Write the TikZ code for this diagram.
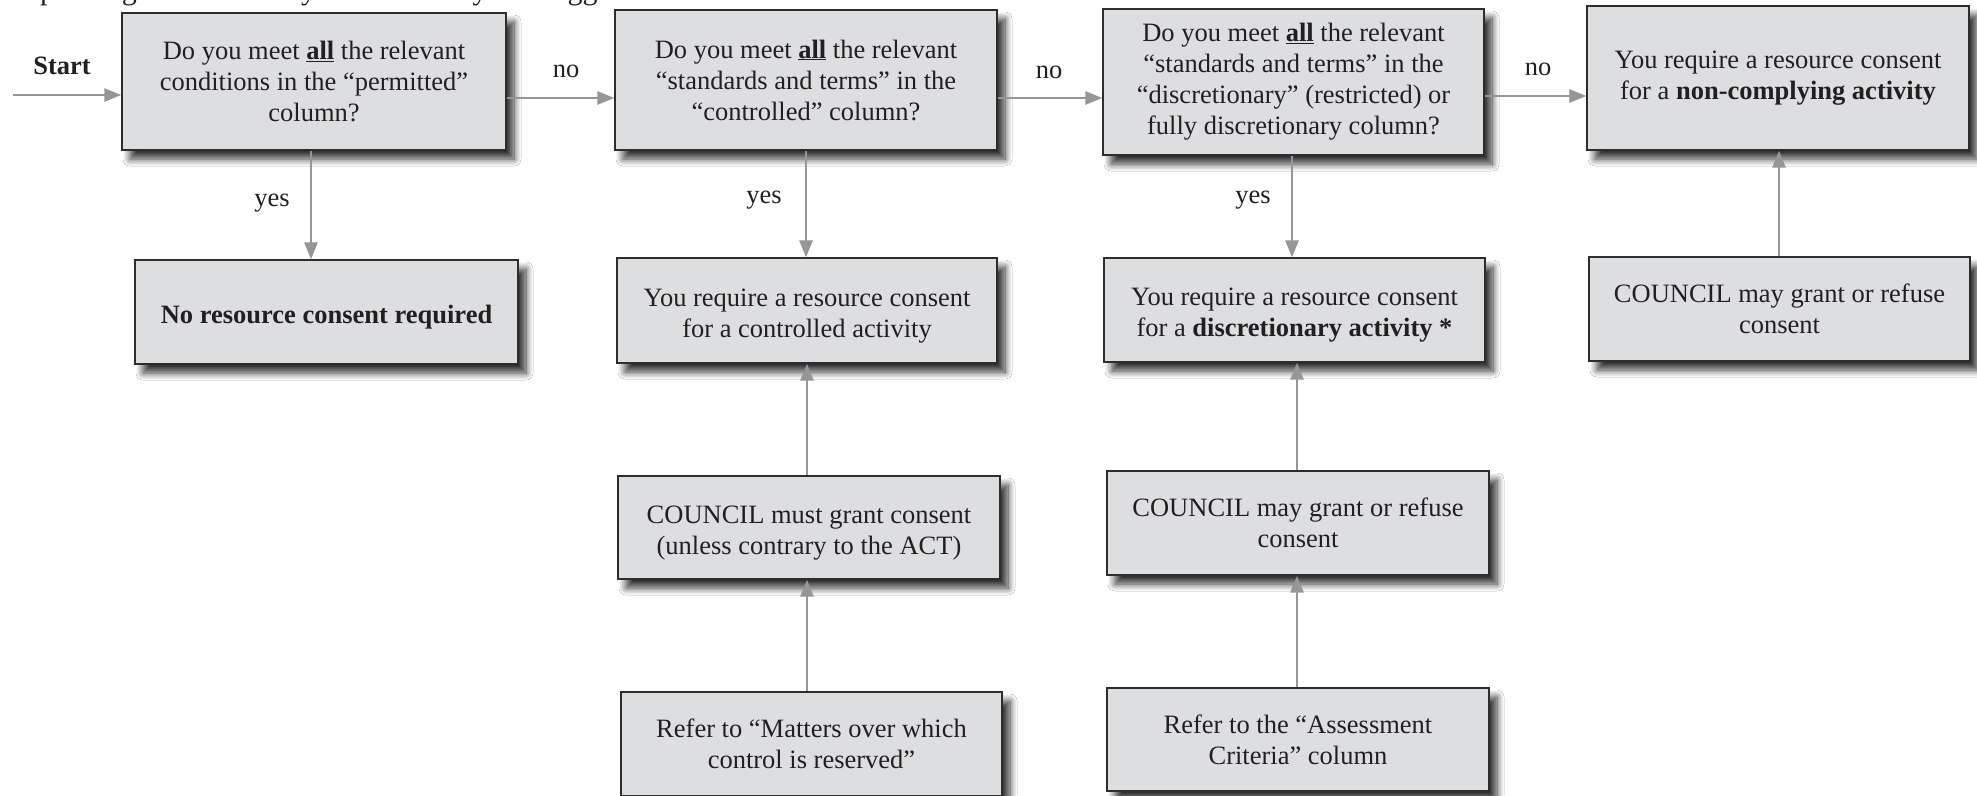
\documentclass[tikz,border=0pt]{standalone}
\usepackage{fontspec}
\setmainfont{Liberation Serif}
\usetikzlibrary{arrows.meta,shadows.blur}
\definecolor{boxfill}{RGB}{221,222,224}
\definecolor{boxline}{RGB}{45,45,45}
\definecolor{arrowgray}{RGB}{150,150,152}
\definecolor{txt}{RGB}{35,31,32}
\newcommand{\lowstrut}{\rule{0pt}{28pt}}
\begin{document}
\begin{tikzpicture}[x=1pt,y=-1pt,
  flowbox/.style={draw=boxline, line width=1.3pt, fill=boxfill, align=center, text=txt,
    font=\fontsize{26.5}{31}\selectfont, inner sep=0pt,
    blur shadow={shadow xshift=8pt, shadow yshift=-9pt, shadow blur radius=7pt, shadow blur steps=12, shadow opacity=80}},
  flowarrow/.style={draw=arrowgray, line width=2.7pt, -{Triangle[length=17pt,width=13pt]}},
  lbl/.style={text=txt, font=\fontsize{26.5}{31}\selectfont, inner sep=0pt}
]
\fill[white] (0,0) rectangle (1977,795);
\useasboundingbox (0,0) rectangle (1977,795);

% line of text cut off at the top edge (only its descenders show)
\begin{scope}
\clip (0,0) rectangle (700,12);
\node[lbl, anchor=base west, font=\fontsize{30}{34}\selectfont] (toptext) at (5,-0.5) {Depending on the activity involved may not trigger};
\end{scope}

% boxes
\node[flowbox, minimum width=384pt, minimum height=137pt] (b1) at (314,81.5)
  {Do you meet \underline{\textbf{all}} the relevant\\conditions in the “permitted”\\column?};
\node[flowbox, minimum width=382pt, minimum height=140pt] (b2) at (806,80)
  {Do you meet \underline{\textbf{all}} the relevant\\“standards and terms” in the\\“controlled” column?};
\node[flowbox, minimum width=381pt, minimum height=146pt] (b3) at (1293.5,82)
  {Do you meet \underline{\textbf{all}} the relevant\\“standards and terms” in the\\“discretionary” (restricted) or\\fully discretionary column?};
\node[flowbox, minimum width=382pt, minimum height=144pt] (b4) at (1778,78)
  {You require a resource consent\\for a \textbf{non-complying activity}};

\node[flowbox, minimum width=383pt, minimum height=104pt] (b5) at (326.5,312)
  {\lowstrut\textbf{No resource consent required}};
\node[flowbox, minimum width=380pt, minimum height=105pt] (b6) at (807,310.5)
  {\lowstrut You require a resource consent\\for a controlled activity};
\node[flowbox, minimum width=381pt, minimum height=104pt] (b7) at (1294.5,310)
  {\lowstrut You require a resource consent\\for a \textbf{discretionary activity *}};
\node[flowbox, minimum width=381pt, minimum height=104pt] (b8) at (1779.5,309)
  {COUNCIL may grant or refuse\\consent};

\node[flowbox, minimum width=382pt, minimum height=103pt] (b9) at (809,527.5)
  {\lowstrut COUNCIL must grant consent\\(unless contrary to the ACT)};
\node[flowbox, minimum width=382pt, minimum height=104pt] (b10) at (1298,523)
  {COUNCIL may grant or refuse\\consent};
\node[flowbox, minimum width=381pt, minimum height=104pt] (b11) at (811.5,744)
  {Refer to “Matters over which\\control is reserved”};
\node[flowbox, minimum width=382pt, minimum height=103pt] (b12) at (1298,739.5)
  {Refer to the “Assessment\\Criteria” column};

% labels
\node[lbl, font={\fontsize{26.5}{31}\selectfont\bfseries}] (start) at (62,66) {Start};
\node[lbl] (no1) at (566,71) {no};
\node[lbl] (no2) at (1049,72) {no};
\node[lbl] (no3) at (1538,69) {no};
\node[lbl] (yes1) at (272,203) {yes};
\node[lbl] (yes2) at (764,200) {yes};
\node[lbl] (yes3) at (1253,200) {yes};

% helper coordinates
\coordinate (s0) at (13,95);
\coordinate (ya) at (0,98);
\coordinate (yb) at (0,98);
\coordinate (yc) at (0,96);
\coordinate (x1) at (311,0);
\coordinate (x2) at (806,0);
\coordinate (x3) at (1292,0);
\coordinate (x2b) at (807,0);
\coordinate (x3b) at (1297,0);
\coordinate (x4) at (1779,0);

% connectors
\draw[flowarrow] (s0) -- (s0 -| b1.west);
\draw[flowarrow] (b1.east |- ya) -- (b2.west |- ya);
\draw[flowarrow] (b2.east |- yb) -- (b3.west |- yb);
\draw[flowarrow] (b3.east |- yc) -- (b4.west |- yc);
\draw[flowarrow] (b1.south -| x1) -- (b5.north -| x1);
\draw[flowarrow] (b2.south -| x2) -- (b6.north -| x2);
\draw[flowarrow] (b3.south -| x3) -- (b7.north -| x3);
\draw[flowarrow] (b9.north -| x2b) -- (b6.south -| x2b);
\draw[flowarrow] (b11.north -| x2b) -- (b9.south -| x2b);
\draw[flowarrow] (b10.north -| x3b) -- (b7.south -| x3b);
\draw[flowarrow] (b12.north -| x3b) -- (b10.south -| x3b);
\draw[flowarrow] (b8.north -| x4) -- (b4.south -| x4);
\end{tikzpicture}
\end{document}
